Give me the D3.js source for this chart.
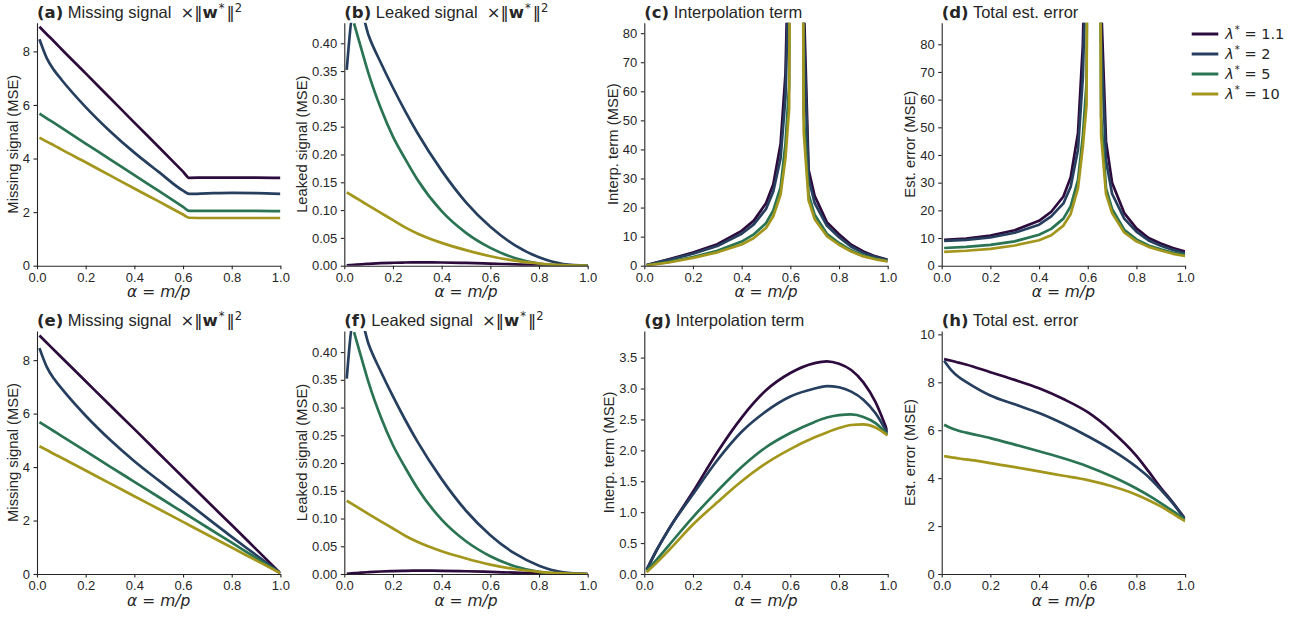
<!DOCTYPE html>
<html>
<head>
<meta charset="utf-8">
<script src="https://cdn.jsdelivr.net/npm/d3@7"></script>
<style>
    body { margin: 0; background: #fff; }
</style>
</head>
<body>
<svg id="fig" width="1292" height="618"></svg>
<script>
const lambdas = ["1.1", "2", "5", "10"]
const colors = ["#2d0b3d", "#273f5f", "#2a7453", "#a3961c"]
const xTicks = [0, 0.2, 0.4, 0.6, 0.8, 1.0]

// (a) missing signal, top row: kink at alpha ~ 0.625, flat after
const alphaA = [0.01, 0.04, 0.07, 0.1, 0.2, 0.3, 0.4, 0.5, 0.6, 0.625, 0.7, 0.8, 0.9, 1.0]
const missingA = [
    [8.92, 8.64, 8.37, 8.09, 7.18, 6.26, 5.34, 4.43, 3.51, 3.28, 3.29, 3.29, 3.29, 3.28],
    [8.45, 7.75, 7.30, 6.95, 5.92, 5.02, 4.22, 3.50, 2.80, 2.68, 2.70, 2.72, 2.71, 2.68],
    [5.68, 5.50, 5.33, 5.15, 4.56, 3.97, 3.38, 2.79, 2.20, 2.05, 2.05, 2.05, 2.05, 2.04],
    [4.78, 4.63, 4.49, 4.34, 3.86, 3.37, 2.88, 2.40, 1.91, 1.79, 1.78, 1.78, 1.78, 1.78]
]

// (b) and (f) leaked signal
const alphaB = [0.01, 0.04, 0.07, 0.1, 0.15, 0.2, 0.25, 0.3, 0.4, 0.5, 0.6, 0.7, 0.8, 0.9, 1.0]
const leaked = [
    [0.0005, 0.0015, 0.0025, 0.0033, 0.0045, 0.0053, 0.0058, 0.006, 0.0058, 0.005, 0.0038, 0.0024, 0.0012, 0.0003, 0],
    [0.352, 0.46, 0.455, 0.414, 0.365, 0.32, 0.278, 0.239, 0.171, 0.114, 0.07, 0.037, 0.015, 0.003, 0],
    [null, 0.436, 0.39, 0.345, 0.283, 0.232, 0.192, 0.155, 0.098, 0.059, 0.032, 0.014, 0.004, 0.0005, 0],
    [0.132, 0.124, 0.116, 0.108, 0.095, 0.082, 0.069, 0.058, 0.041, 0.028, 0.017, 0.009, 0.004, 0.001, 0]
]

// (c), (d) diverge around alpha ~ 0.625
const alphaC = [0.01, 0.1, 0.2, 0.3, 0.4, 0.45, 0.5, 0.53, 0.56, 0.58, 0.595, 0.625, 0.655, 0.675, 0.7, 0.75, 0.8, 0.85, 0.9, 0.95, 1.0]
const interpC = [
    [0.2, 2.2, 4.5, 7.4, 12.0, 15.5, 21.5, 28.0, 42, 66, 120, 600, 92, 33, 24.0, 15.0, 10.8, 7.2, 4.9, 3.2, 2.0],
    [0.2, 2.0, 4.1, 6.8, 11.0, 14.2, 19.5, 25.5, 37, 58, 105, 600, 82, 30, 21.5, 13.8, 9.8, 6.5, 4.4, 3.0, 1.9],
    [0.1, 1.3, 3.0, 5.1, 8.3, 10.8, 14.6, 19.0, 27, 42, 62, 600, 52, 24.5, 17.5, 11.0, 7.8, 5.3, 3.5, 2.4, 1.6],
    [0.1, 1.1, 2.7, 4.6, 7.3, 9.5, 13.0, 17.0, 24.5, 37, 54, 600, 46, 22.5, 16.0, 10.2, 7.2, 4.9, 3.2, 2.2, 1.5]
]
const totalD = [
    [9.3, 9.8, 10.9, 12.8, 16.2, 19.5, 25.0, 32.0, 48, 80, 140, 600, 95, 45, 30.0, 19.0, 13.5, 10.0, 8.0, 6.4, 5.1],
    [9.0, 9.3, 10.2, 11.9, 14.8, 17.8, 22.5, 28.5, 42, 68, 120, 600, 82, 38, 26.0, 17.0, 12.3, 9.1, 7.2, 5.7, 4.5],
    [6.4, 6.8, 7.5, 8.8, 11.2, 13.3, 17.0, 21.5, 31, 47, 66, 600, 54, 28, 20.5, 13.0, 9.5, 7.3, 5.9, 4.7, 3.9],
    [5.0, 5.4, 6.1, 7.3, 9.2, 11.0, 14.5, 18.7, 28, 43, 58, 600, 47, 26, 19.0, 12.0, 8.8, 6.8, 5.5, 4.3, 3.5]
]

// (e) missing signal, bottom row
const alphaE = [0.01, 0.04, 0.07, 0.1, 0.2, 0.3, 0.4, 0.5, 0.6, 0.7, 0.8, 0.9, 1.0]
const missingE = [
    [8.92, 8.65, 8.38, 8.11, 7.21, 6.31, 5.42, 4.52, 3.62, 2.72, 1.83, 0.93, 0.03],
    [8.45, 7.75, 7.30, 6.95, 5.92, 5.02, 4.22, 3.50, 2.80, 2.09, 1.39, 0.71, 0.03],
    [5.68, 5.51, 5.34, 5.17, 4.60, 4.02, 3.45, 2.88, 2.31, 1.74, 1.17, 0.60, 0.03],
    [4.78, 4.64, 4.49, 4.35, 3.87, 3.39, 2.91, 2.43, 1.95, 1.47, 0.99, 0.51, 0.03]
]

// (g) interpolation term, bottom row
const alphaG = [0.01, 0.05, 0.1, 0.2, 0.3, 0.4, 0.5, 0.6, 0.7, 0.75, 0.8, 0.85, 0.9, 0.95, 1.0]
const interpG = [
    [0.07, 0.38, 0.72, 1.33, 1.97, 2.53, 2.97, 3.25, 3.41, 3.44, 3.40, 3.30, 3.10, 2.78, 2.30],
    [0.07, 0.38, 0.72, 1.29, 1.84, 2.30, 2.63, 2.87, 3.00, 3.04, 3.02, 2.95, 2.82, 2.60, 2.27],
    [0.05, 0.23, 0.46, 0.92, 1.34, 1.73, 2.05, 2.28, 2.46, 2.53, 2.57, 2.58, 2.54, 2.44, 2.25],
    [0.03, 0.18, 0.38, 0.80, 1.16, 1.50, 1.79, 2.02, 2.21, 2.29, 2.36, 2.41, 2.42, 2.37, 2.24]
]

// (h) total est. error, bottom row
const alphaH = [0.01, 0.04, 0.07, 0.1, 0.2, 0.3, 0.4, 0.5, 0.6, 0.7, 0.8, 0.85, 0.9, 0.95, 1.0]
const totalH = [
    [8.97, 8.90, 8.82, 8.74, 8.42, 8.10, 7.75, 7.30, 6.75, 5.95, 4.93, 4.28, 3.60, 2.98, 2.30],
    [8.90, 8.50, 8.22, 8.02, 7.45, 7.08, 6.72, 6.27, 5.75, 5.17, 4.47, 4.05, 3.52, 2.95, 2.27],
    [6.23, 6.08, 5.98, 5.90, 5.67, 5.40, 5.12, 4.83, 4.49, 4.07, 3.57, 3.28, 2.96, 2.62, 2.26],
    [4.92, 4.87, 4.82, 4.78, 4.63, 4.46, 4.28, 4.10, 3.92, 3.66, 3.31, 3.08, 2.82, 2.52, 2.20]
]

const SANS = "'Liberation Sans', Arial, sans-serif"
const MATH = "'DejaVu Sans', sans-serif"
const INK = "#262626"

const fmt0 = d3.format("d"), fmt1 = d3.format(".1f"), fmt2 = d3.format(".2f")
const smooth = d3.curveMonotoneX, sharp = d3.curveLinear

const panels = [
    {id: "a", title: "Missing signal", norm: true, ylab: "Missing signal (MSE)", alpha: alphaA, series: missingA, ymax: 9.07, yticks: [0, 2, 4, 6, 8], fmt: fmt0, curve: smooth},
    {id: "b", title: "Leaked signal", norm: true, ylab: "Leaked signal (MSE)", alpha: alphaB, series: leaked, ymax: 0.437, yticks: d3.range(0, 0.41, 0.05), fmt: fmt2, curve: smooth},
    {id: "c", title: "Interpolation term", norm: false, ylab: "Interp. term (MSE)", alpha: alphaC, series: interpC, ymax: 83.6, yticks: d3.range(0, 81, 10), fmt: fmt0, curve: sharp},
    {id: "d", title: "Total est. error", norm: false, ylab: "Est. error (MSE)", alpha: alphaC, series: totalD, ymax: 87.8, yticks: d3.range(0, 81, 10), fmt: fmt0, curve: sharp},
    {id: "e", title: "Missing signal", norm: true, ylab: "Missing signal (MSE)", alpha: alphaE, series: missingE, ymax: 9.09, yticks: [0, 2, 4, 6, 8], fmt: fmt0, curve: smooth},
    {id: "f", title: "Leaked signal", norm: true, ylab: "Leaked signal (MSE)", alpha: alphaB, series: leaked, ymax: 0.438, yticks: d3.range(0, 0.41, 0.05), fmt: fmt2, curve: smooth},
    {id: "g", title: "Interpolation term", norm: false, ylab: "Interp. term (MSE)", alpha: alphaG, series: interpG, ymax: 3.93, yticks: d3.range(0, 3.6, 0.5), fmt: fmt1, curve: smooth},
    {id: "h", title: "Total est. error", norm: false, ylab: "Est. error (MSE)", alpha: alphaH, series: totalH, ymax: 10.14, yticks: [0, 2, 4, 6, 8, 10], fmt: fmt0, curve: smooth}
]

const W = 243.4, H = 243
const colLeft = [37, 344.3, 644.3, 941.7]
const rowTop = [22.7, 331]

const svg = d3.select("#fig")

function addTitle(g, p) {
    const t = g.append("text")
        .attr("y", -4.7)
        .attr("font-size", 16.5)
        .attr("fill", INK)
    t.append("tspan").attr("font-family", MATH).attr("font-weight", "bold").text(`(${p.id})`)
    t.append("tspan").attr("font-family", SANS).text(` ${p.title}`)
    if (p.norm) {
        t.append("tspan").attr("font-family", MATH).attr("dx", 9).text("×‖")
        t.append("tspan").attr("font-family", MATH).attr("font-weight", "bold").text("w")
        t.append("tspan").attr("font-family", MATH).attr("font-size", 11.5).attr("dy", -6.5).attr("dx", 1).text("*")
        t.append("tspan").attr("font-family", MATH).attr("dy", 6.5).attr("dx", 2).text("‖")
        t.append("tspan").attr("font-family", MATH).attr("font-size", 11.5).attr("dy", -6.5).text("2")
    }
}

panels.forEach((p, i) => {
    const left = colLeft[i % 4], top = rowTop[Math.floor(i / 4)]
    const g = svg.append("g").attr("transform", `translate(${left},${top})`)

    const x = d3.scaleLinear().domain([0, 1]).range([0, W])
    const y = d3.scaleLinear().domain([0, p.ymax]).range([H, 0])

    g.append("clipPath")
        .attr("id", `clip-${p.id}`)
        .append("rect")
        .attr("width", W)
        .attr("height", H)

    const line = d3.line()
        .defined(d => d[1] != null)
        .x(d => x(d[0]))
        .y(d => y(d[1]))
        .curve(p.curve)

    p.series.forEach((vals, k) => {
        g.append("path")
            .datum(p.alpha.map((a, j) => [a, vals[j]]))
            .attr("clip-path", `url(#clip-${p.id})`)
            .attr("fill", "none")
            .attr("stroke", colors[k])
            .attr("stroke-width", 2.7)
            .attr("stroke-linejoin", "round")
            .attr("d", line)
    })

    const xAxis = g.append("g")
        .attr("transform", `translate(0,${H})`)
        .call(d3.axisBottom(x).tickValues(xTicks).tickFormat(fmt1).tickSize(3.5).tickPadding(3.5).tickSizeOuter(0))

    const yAxis = g.append("g")
        .call(d3.axisLeft(y).tickValues(p.yticks).tickFormat(p.fmt).tickSize(3.5).tickPadding(3.5).tickSizeOuter(0))

    for (const a of [xAxis, yAxis]) {
        a.attr("color", INK).attr("font-family", SANS).attr("font-size", 13)
        a.selectAll("path, line").attr("stroke-width", 1.1)
    }

    let tickW = 0
    yAxis.selectAll(".tick text").each(function () {
        tickW = Math.max(tickW, this.getComputedTextLength())
    })

    g.append("text")
        .attr("transform", `translate(${-tickW - 12},${H / 2}) rotate(-90)`)
        .attr("text-anchor", "middle")
        .attr("font-family", SANS)
        .attr("font-size", 14.8)
        .attr("fill", INK)
        .text(p.ylab)

    const xl = g.append("text")
        .attr("x", W / 2)
        .attr("y", H + 31.5)
        .attr("text-anchor", "middle")
        .attr("font-family", MATH)
        .attr("font-size", 15.5)
        .attr("fill", INK)
    xl.append("tspan").attr("font-style", "italic").text("α")
    xl.append("tspan").text(" = ")
    xl.append("tspan").attr("font-style", "italic").text("m/p")

    addTitle(g, p)
})

// legend, to the right of panel (d)
const legend = svg.append("g").attr("transform", "translate(1191.7,34)")
lambdas.forEach((lam, k) => {
    const row = legend.append("g").attr("transform", `translate(0,${k * 20})`)
    row.append("line")
        .attr("x1", 0).attr("x2", 26.6)
        .attr("stroke", colors[k])
        .attr("stroke-width", 3)
    const t = row.append("text")
        .attr("x", 33.5)
        .attr("y", 5)
        .attr("font-family", MATH)
        .attr("font-size", 14.5)
        .attr("fill", INK)
    t.append("tspan").attr("font-style", "italic").text("λ")
    t.append("tspan").attr("font-size", 10).attr("dy", -6).attr("dx", 1).text("*")
    t.append("tspan").attr("dy", 6).text(` = ${lam}`)
})
</script>
</body>
</html>
